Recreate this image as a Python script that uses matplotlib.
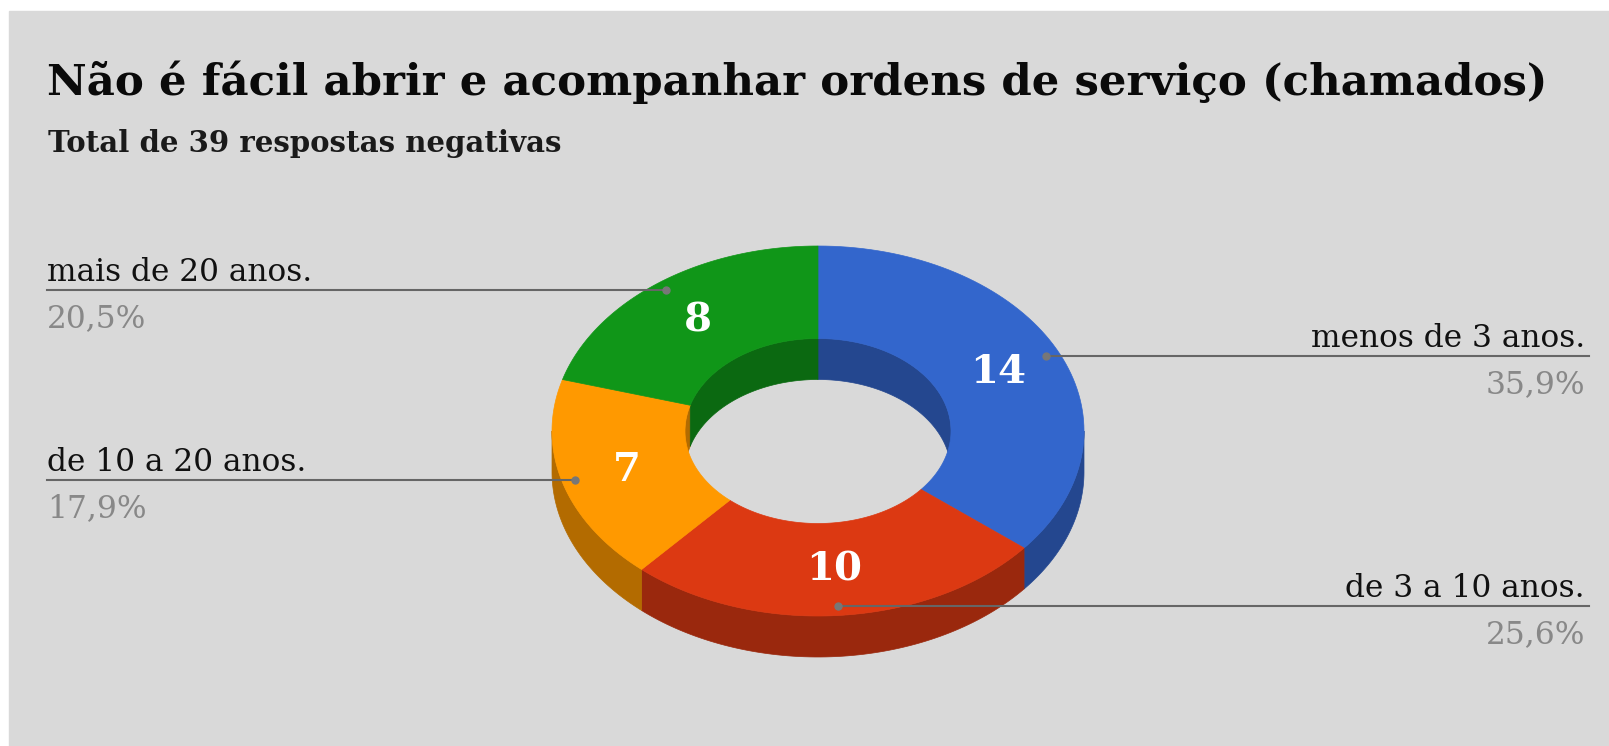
import numpy as np
import matplotlib.pyplot as plt
import matplotlib.colors as mcolors
from matplotlib.patches import Polygon, Rectangle

# Data
categories = ["menos de 3 anos.", "de 3 a 10 anos.", "de 10 a 20 anos.", "mais de 20 anos."]
counts = [14, 10, 7, 8]
colors = ["#3366cc", "#dc3912", "#ff9900", "#109618"]
title = "Não é fácil abrir e acompanhar ordens de serviço (chamados)"
subtitle = "Total de 39 respostas negativas"

# Layout (pixel space)
W, H = 1609, 746
cx, cy = 818, 431
rx, ry = 266, 185
hole = 0.5
depth = 41
bg = "#d9d9d9"
font = "DejaVu Serif"


def shade(c, f=0.7):
    return tuple(v * f for v in mcolors.to_rgb(c))


def arc(a0, a1, r, dy=0, n=80):
    t = np.radians(np.linspace(a0, a1, n))
    return np.column_stack([cx + r * rx * np.sin(t), cy - r * ry * np.cos(t) + dy])


def overlap(a0, a1, b0, b1):
    lo, hi = max(a0, b0), min(a1, b1)
    return (lo, hi) if hi > lo else None


fig = plt.figure(figsize=(W / 100, H / 100), dpi=100)
ax = fig.add_axes([0, 0, 1, 1])
ax.set_xlim(0, W)
ax.set_ylim(H, 0)
ax.axis("off")
ax.add_patch(Rectangle((9, 11), W, H, color=bg, zorder=0))

total = sum(counts)
bounds = np.concatenate([[0], np.cumsum(counts) / total * 360])

# outer side walls (front half) and inner walls (back half)
for i, c in enumerate(colors):
    a0, a1 = bounds[i], bounds[i + 1]
    seg = overlap(a0, a1, 90, 270)
    if seg:
        top = arc(seg[0], seg[1], 1)
        bot = arc(seg[1], seg[0], 1, depth)
        ax.add_patch(Polygon(np.vstack([top, bot]), fc=shade(c), ec=shade(c), lw=0.5, zorder=1))
    for b0, b1 in [(0, 90), (270, 360)]:
        seg = overlap(a0, a1, b0, b1)
        if seg:
            top = arc(seg[0], seg[1], hole)
            bot = arc(seg[1], seg[0], hole, depth)
            ax.add_patch(Polygon(np.vstack([top, bot]), fc=shade(c), ec=shade(c), lw=0.5, zorder=1))

# top surfaces
for i, c in enumerate(colors):
    a0, a1 = bounds[i], bounds[i + 1]
    pts = np.vstack([arc(a0, a1, 1), arc(a1, a0, hole)])
    ax.add_patch(Polygon(pts, fc=c, ec=c, lw=0.5, zorder=2))

# labels
for i, (name, v) in enumerate(zip(categories, counts)):
    mid = (bounds[i] + bounds[i + 1]) / 2
    t = np.radians(mid)
    vx = cx + 0.75 * rx * np.sin(t)
    vy = cy - 0.75 * ry * np.cos(t)
    ax.text(vx, vy, str(v), color="white", fontsize=29, fontweight="bold",
            family=font, ha="center", va="center", zorder=4)

    dx = cx + 0.95 * rx * np.sin(t)
    dy = cy - 0.95 * ry * np.cos(t)
    pct = f"{v / total * 100:.1f}".replace(".", ",") + "%"
    if np.sin(t) >= 0:
        ax.plot([dx, 1589], [dy, dy], color="#666666", lw=1.5, zorder=3)
        tx, ha = 1585, "right"
    else:
        ax.plot([47, dx], [dy, dy], color="#666666", lw=1.5, zorder=3)
        tx, ha = 47, "left"
    ax.plot(dx, dy, "o", color="#777777", ms=5, zorder=3)
    ax.text(tx, dy - 9, name, fontsize=22.5, family=font, color="#111111",
            ha=ha, va="baseline", zorder=3)
    ax.text(tx, dy + 37, pct, fontsize=22.5, family=font, color="#888888",
            ha=ha, va="baseline", zorder=3)

ax.text(47, 95, title, fontsize=31.3, fontweight="bold", family=font,
        color="#0a0a0a", ha="left", va="baseline")
ax.text(48, 152, subtitle, fontsize=21, fontweight="bold", family=font,
        color="#1a1a1a", ha="left", va="baseline")

fig.savefig("out.png", dpi=100, facecolor="white")
